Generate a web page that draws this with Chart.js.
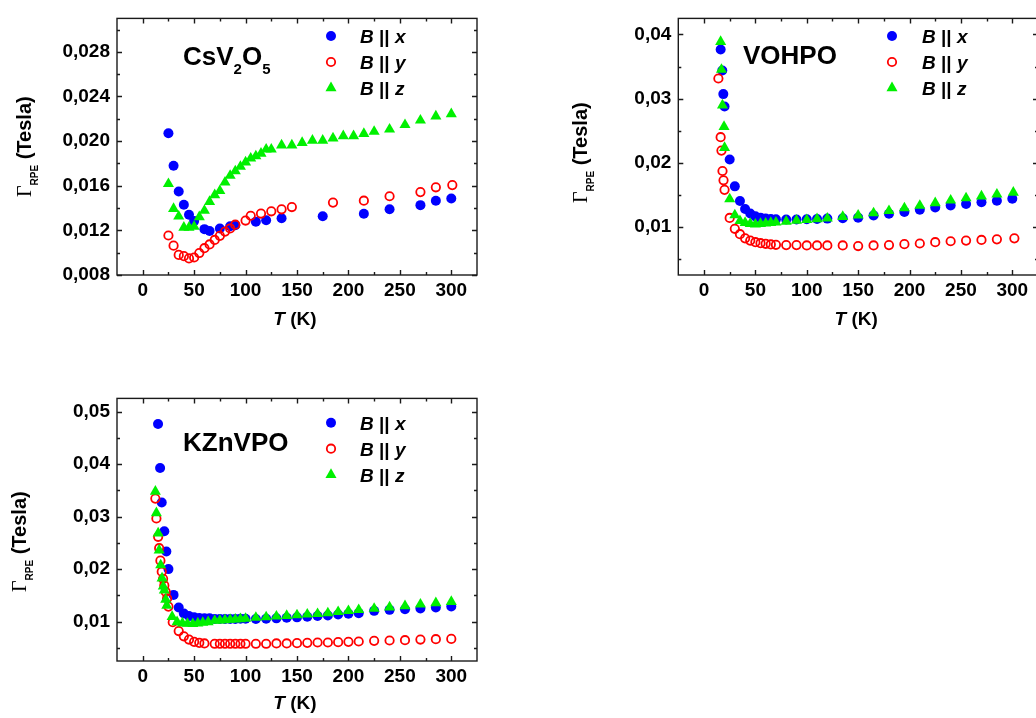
<!DOCTYPE html>
<html><head><meta charset="utf-8">
<script src="https://cdn.jsdelivr.net/npm/chart.js@4.4.1/dist/chart.umd.min.js"></script>
<style>
html,body{margin:0;padding:0;background:#fff;}
body{width:1036px;height:718px;overflow:hidden;position:relative;}
canvas{position:absolute;}
</style>
</head><body>
<canvas id="c1" width="520" height="340" style="left:0;top:0"></canvas>
<canvas id="c2" width="520" height="340" style="left:560px;top:0"></canvas>
<canvas id="c3" width="520" height="338" style="left:0;top:380px"></canvas>
<script>
// ---------- shared axis ticks ----------
const xTicks = [0, 50, 100, 150, 200, 250, 300];
const xTickLabels = ['0', '50', '100', '150', '200', '250', '300'];

// ---------- CsV2O5 ----------
const csYTicks = [0.008, 0.012, 0.016, 0.020, 0.024, 0.028];
const csYTickLabels = ['0,008', '0,012', '0,016', '0,020', '0,024', '0,028'];
const csT_x = [25, 30, 35, 40, 45, 50, 60, 65, 75, 85, 90, 110, 120, 135, 175, 215, 240, 270, 285, 300];
const cs_x  = [0.0207, 0.0178, 0.01548, 0.01429, 0.0134, 0.01283, 0.01211, 0.01194, 0.01217, 0.01237, 0.01246, 0.01277, 0.01291, 0.01309, 0.01326, 0.01349, 0.01389, 0.01426, 0.01466, 0.01486];
const csT_y = [25, 30, 35, 40, 45, 50, 55, 60, 65, 70, 75, 80, 85, 90, 100, 105, 115, 125, 135, 145, 185, 215, 240, 270, 285, 301];
const cs_y  = [0.01154, 0.01063, 0.0098, 0.00969, 0.00949, 0.00957, 0.00997, 0.0104, 0.01074, 0.01114, 0.01151, 0.01189, 0.01217, 0.01251, 0.01288, 0.01331, 0.01351, 0.01371, 0.01389, 0.01409, 0.01449, 0.01466, 0.01506, 0.01543, 0.01586, 0.01606];
const csT_z = [25, 30, 35, 40, 45, 50, 55, 60, 65, 70, 75, 80, 85, 90, 95, 100, 105, 110, 115, 120, 125, 135, 145, 155, 165, 175, 185, 195, 205, 215, 225, 240, 255, 270, 285, 300];
const cs_z  = [0.01617, 0.01394, 0.01326, 0.01226, 0.01226, 0.01234, 0.0132, 0.01377, 0.01457, 0.01517, 0.01554, 0.01631, 0.01691, 0.01731, 0.01771, 0.01811, 0.01846, 0.01866, 0.01889, 0.01926, 0.01926, 0.01963, 0.01963, 0.01986, 0.02006, 0.02006, 0.02026, 0.02046, 0.02046, 0.02066, 0.02086, 0.02106, 0.02146, 0.02186, 0.02223, 0.02243];

// ---------- VOHPO ----------
const voYTicks = [0.01, 0.02, 0.03, 0.04];
const voYTickLabels = ['0,01', '0,02', '0,03', '0,04'];
const voT_x = [16.2, 17.8, 18.8, 20, 25, 30, 35, 40, 45, 50, 55, 60, 65, 70, 80, 90, 100, 110, 120, 135, 150, 165, 180, 195, 210, 225, 240, 255, 270, 285, 300];
const vo_x  = [0.03766, 0.03438, 0.0307, 0.02876, 0.0205, 0.01632, 0.01403, 0.01279, 0.01209, 0.01164, 0.01144, 0.01129, 0.01124, 0.01119, 0.01114, 0.01114, 0.01119, 0.01124, 0.01129, 0.01134, 0.01144, 0.01179, 0.01204, 0.01234, 0.01269, 0.01303, 0.01333, 0.01358, 0.01383, 0.01408, 0.01438];
const voT_y = [14, 16.2, 17, 18, 19, 20, 25, 30, 35, 40, 45, 50, 55, 60, 65, 70, 80, 90, 100, 110, 120, 135, 150, 165, 180, 195, 210, 225, 240, 255, 270, 285, 302];
const vo_y  = [0.03313, 0.02398, 0.02189, 0.01871, 0.01726, 0.01577, 0.01139, 0.0097, 0.00886, 0.00821, 0.00786, 0.00761, 0.00746, 0.00736, 0.00726, 0.00721, 0.00716, 0.00716, 0.00711, 0.00711, 0.00711, 0.00711, 0.00701, 0.00711, 0.00716, 0.00731, 0.00741, 0.00761, 0.00776, 0.00786, 0.00796, 0.00806, 0.00821];
const voT_z = [16.2, 17, 18, 19.5, 20, 25, 30, 35, 40, 45, 50, 55, 60, 65, 70, 80, 90, 100, 110, 120, 135, 150, 165, 180, 195, 210, 225, 240, 255, 270, 285, 301];
const vo_z  = [0.03886, 0.03453, 0.02896, 0.02562, 0.02234, 0.01433, 0.01184, 0.01095, 0.01065, 0.0105, 0.0104, 0.0105, 0.01055, 0.01065, 0.0107, 0.01085, 0.011, 0.01109, 0.01124, 0.01134, 0.01159, 0.01179, 0.01214, 0.01249, 0.01294, 0.01333, 0.01373, 0.01413, 0.01448, 0.01478, 0.01507, 0.01537];

// ---------- KZnVPO ----------
const kzYTicks = [0.01, 0.02, 0.03, 0.04, 0.05];
const kzYTickLabels = ['0,01', '0,02', '0,03', '0,04', '0,05'];
const kzT_x = [14.9, 16.9, 18.5, 21, 23, 25, 30, 35, 40, 45, 50, 55, 60, 65, 70, 75, 80, 85, 90, 95, 100, 110, 120, 130, 140, 150, 160, 170, 180, 190, 200, 210, 225, 240, 255, 270, 285, 300];
const kz_x  = [0.04763, 0.03925, 0.03267, 0.0272, 0.02335, 0.02, 0.01509, 0.01267, 0.01155, 0.01106, 0.01081, 0.01068, 0.01062, 0.01062, 0.0105, 0.0105, 0.0105, 0.0105, 0.01052, 0.01054, 0.01056, 0.0105, 0.01056, 0.01062, 0.01075, 0.01081, 0.01093, 0.01106, 0.01118, 0.01137, 0.01149, 0.01161, 0.01205, 0.01224, 0.01236, 0.01248, 0.01267, 0.01286];
const kzT_y = [12.3, 13.3, 15, 16, 17.2, 18.5, 19.8, 21, 22.4, 23.7, 25, 29.2, 35, 40, 45, 50, 55, 60, 70, 75, 80, 85, 90, 95, 100, 110, 120, 130, 140, 150, 160, 170, 180, 190, 200, 210, 225, 240, 255, 270, 285, 300];
const kz_y  = [0.03342, 0.02963, 0.02615, 0.02398, 0.02161, 0.0195, 0.01814, 0.01689, 0.01565, 0.01441, 0.01286, 0.00988, 0.0082, 0.0072, 0.00658, 0.00615, 0.00596, 0.00584, 0.00578, 0.00578, 0.00578, 0.00578, 0.00578, 0.00578, 0.00578, 0.00578, 0.00578, 0.00584, 0.00584, 0.0059, 0.00596, 0.00602, 0.00602, 0.00609, 0.00615, 0.00621, 0.00634, 0.0064, 0.00646, 0.00658, 0.00665, 0.00671];
const kzT_z = [12.3, 13.3, 15, 16, 17.5, 18.8, 20, 21, 22.4, 23.4, 28.6, 33.4, 38.6, 43.5, 48.7, 53.6, 58.4, 63.6, 70, 75, 80, 85, 90, 95, 100, 110, 120, 130, 140, 150, 160, 170, 180, 190, 200, 210, 225, 240, 255, 270, 285, 300];
const kz_z  = [0.03478, 0.03068, 0.02683, 0.0236, 0.02075, 0.01826, 0.01671, 0.01596, 0.01422, 0.01304, 0.01093, 0.00994, 0.00969, 0.00963, 0.00957, 0.00969, 0.00981, 0.00994, 0.01019, 0.01025, 0.01031, 0.01037, 0.01043, 0.0105, 0.01056, 0.01075, 0.01087, 0.01099, 0.01112, 0.01124, 0.01137, 0.01149, 0.01161, 0.01186, 0.01205, 0.01224, 0.01248, 0.01273, 0.01298, 0.01329, 0.01354, 0.01379];

const legendLabels = ['x', 'y', 'z'];
const BLUE = '#0000ff', RED = '#ff0000', GREEN = '#00f000';
const SANS = '"Liberation Sans", Arial, Helvetica, sans-serif';
const SERIF = '"Liberation Serif", "Times New Roman", serif';
const R_BLUE = 5, R_RED = 4.2, W_RED = 1.8, R_TRI = 6.4;

function pairs(xs, ys) { return xs.map((t, i) => ({x: t, y: ys[i]})); }

function drawRuns(ctx, x, y, runs) {
  let cx = x;
  for (const r of runs) {
    ctx.font = r.font;
    ctx.fillText(r.text, cx, y + (r.dy || 0));
    cx += ctx.measureText(r.text).width;
  }
  return cx;
}
function runsWidth(ctx, runs) {
  let w = 0;
  for (const r of runs) { ctx.font = r.font; w += ctx.measureText(r.text).width; }
  return w;
}

function marker(ctx, kind, x, y) {
  ctx.save();
  if (kind === 0) {
    ctx.fillStyle = BLUE; ctx.beginPath(); ctx.arc(x, y, R_BLUE, 0, Math.PI * 2); ctx.fill();
  } else if (kind === 1) {
    ctx.strokeStyle = RED; ctx.lineWidth = W_RED; ctx.beginPath(); ctx.arc(x, y, R_RED, 0, Math.PI * 2); ctx.stroke();
  } else {
    const r = R_TRI;
    ctx.fillStyle = GREEN; ctx.beginPath();
    for (let k = 0; k < 3; k++) {
      const a = k * 2 * Math.PI / 3;
      const px = x + Math.sin(a) * r, py = y - Math.cos(a) * r;
      k ? ctx.lineTo(px, py) : ctx.moveTo(px, py);
    }
    ctx.closePath(); ctx.fill();
  }
  ctx.restore();
}

const decor = {
  id: 'decor',
  afterDraw(chart) {
    const o = chart.config.options.plugins.decor;
    const ctx = chart.ctx, a = chart.chartArea;
    const xs = chart.scales.x, ys = chart.scales.y;
    ctx.save();
    ctx.strokeStyle = '#1a1a1a'; ctx.lineWidth = 1.4;
    ctx.strokeRect(a.left, a.top, a.right - a.left, a.bottom - a.top);
    ctx.beginPath();
    const seg = (x1, y1, x2, y2) => { ctx.moveTo(x1, y1); ctx.lineTo(x2, y2); };
    const xStep = xTicks[1] - xTicks[0];
    const xAll = [];
    xTicks.forEach(v => { xAll.push([v, 5]); });
    xTicks.forEach(v => { [v - xStep / 2, v + xStep / 2].forEach(m => {
      if (m > xs.min + 1e-9 && m < xs.max - 1e-9 && !xAll.some(q => Math.abs(q[0] - m) < 1e-9)) xAll.push([m, 3]);
    }); });
    xAll.forEach(([v, L]) => {
      const p = Math.round(xs.getPixelForValue(v)) + 0.5;
      seg(p, a.bottom, p, a.bottom - L);
      seg(p, a.top, p, a.top + L);
    });
    const yt = o.yTicks, yStep = yt[1] - yt[0];
    const yAll = [];
    yt.forEach(v => yAll.push([v, 5]));
    yt.forEach(v => { [v - yStep / 2, v + yStep / 2].forEach(m => {
      if (m > ys.min + 1e-9 && m < ys.max - 1e-9 && !yAll.some(q => Math.abs(q[0] - m) < 1e-9)) yAll.push([m, 3]);
    }); });
    yAll.forEach(([v, L]) => {
      const p = Math.round(ys.getPixelForValue(v)) + 0.5;
      seg(a.left, p, a.left + L, p);
      seg(a.right, p, a.right - L, p);
    });
    ctx.stroke();

    ctx.fillStyle = '#000';
    ctx.textBaseline = 'alphabetic';
    ctx.textAlign = 'left';
    drawRuns(ctx, o.titleX, o.titleY, o.titleRuns);
    for (let i = 0; i < 3; i++) {
      const cy = o.legY + i * 26;
      marker(ctx, i, o.legMX, cy);
      ctx.fillStyle = '#000';
      drawRuns(ctx, o.legTX, cy + 7, [
        {text: 'B', font: 'italic bold 19px ' + SANS},
        {text: ' || ', font: 'bold 19px ' + SANS},
        {text: legendLabels[i], font: 'italic bold 19px ' + SANS}
      ]);
    }
    const xRuns = [{text: 'T', font: 'italic bold 19px ' + SANS}, {text: ' (K)', font: 'bold 19px ' + SANS}];
    const xw = runsWidth(ctx, xRuns);
    drawRuns(ctx, (a.left + a.right) / 2 - xw / 2 - 2, o.xTitleY, xRuns);
    ctx.translate(o.yTitleX, o.yTitleBottom);
    ctx.rotate(-Math.PI / 2);
    drawRuns(ctx, 0, 0, [
      {text: '\u0393', font: '20px ' + SERIF},
      {text: 'RPE', font: 'bold 10px ' + SANS, dy: 7},
      {text: ' (Tesla)', font: 'bold 20px ' + SANS}
    ]);
    ctx.restore();
  }
};

function makePanel(id, p) {
  const cv = document.getElementById(id);
  const H = cv.height, W = cv.width;
  new Chart(cv, {
    type: 'scatter',
    data: {
      datasets: [
        {label: 'B || x', data: pairs(p.Tx, p.x), pointStyle: 'circle', pointRadius: R_BLUE, pointBackgroundColor: BLUE, pointBorderColor: BLUE, pointBorderWidth: 0, order: 3},
        {label: 'B || y', data: pairs(p.Ty, p.y), pointStyle: 'circle', pointRadius: R_RED, pointBackgroundColor: 'rgba(0,0,0,0)', pointBorderColor: RED, pointBorderWidth: W_RED, order: 2},
        {label: 'B || z', data: pairs(p.Tz, p.z), pointStyle: 'triangle', pointRadius: R_TRI, pointBackgroundColor: GREEN, pointBorderColor: GREEN, pointBorderWidth: 0, order: 1}
      ]
    },
    options: {
      responsive: false, animation: false, events: [],
      layout: {padding: {left: 0, right: W - p.areaRight, top: p.areaTop, bottom: 0}},
      scales: {
        x: {
          type: 'linear', position: 'bottom', min: -25, max: 325,
          grid: {display: false, drawTicks: false}, border: {display: false},
          afterBuildTicks: s => { s.ticks = xTicks.map(v => ({value: v})); },
          afterFit: s => { s.height = H - p.areaBottom; },
          ticks: {padding: 4, color: '#000', font: {family: SANS, size: 19, weight: 'bold'},
                  callback: (v) => xTickLabels[xTicks.indexOf(v)] ?? ''}
        },
        y: {
          type: 'linear', position: 'left', min: p.yMin, max: p.yMax,
          grid: {display: false, drawTicks: false}, border: {display: false},
          afterBuildTicks: s => { s.ticks = p.yTicks.map(v => ({value: v})); },
          afterFit: s => { s.width = p.areaLeft; },
          ticks: {padding: 7, color: '#000', font: {family: SANS, size: 19, weight: 'bold'},
                  callback: (v) => { const i = p.yTicks.findIndex(t => Math.abs(t - v) < 1e-9); return i >= 0 ? p.yLabels[i] : ''; }}
        }
      },
      plugins: {
        legend: {display: false}, tooltip: {enabled: false}, title: {display: false},
        decor: p.decor
      }
    },
    plugins: [decor]
  });
}

makePanel('c1', {
  Tx: csT_x, x: cs_x, Ty: csT_y, y: cs_y, Tz: csT_z, z: cs_z,
  yMin: 0.008, yMax: 0.031, yTicks: csYTicks, yLabels: csYTickLabels,
  areaLeft: 117, areaRight: 477, areaTop: 7, areaBottom: 275,
  decor: {
    yTicks: csYTicks,
    titleX: 183, titleY: 65,
    titleRuns: [
      {text: 'CsV', font: 'bold 26px ' + SANS},
      {text: '2', font: 'bold 15px ' + SANS, dy: 9},
      {text: 'O', font: 'bold 26px ' + SANS},
      {text: '5', font: 'bold 15px ' + SANS, dy: 9}
    ],
    legMX: 331, legTX: 360, legY: 36,
    xTitleY: 325, yTitleX: 31, yTitleBottom: 197
  }
});

makePanel('c2', {
  Tx: voT_x, x: vo_x, Ty: voT_y, y: vo_y, Tz: voT_z, z: vo_z,
  yMin: 0.0025, yMax: 0.0425, yTicks: voYTicks, yLabels: voYTickLabels,
  areaLeft: 118.3, areaRight: 478, areaTop: 7, areaBottom: 275,
  decor: {
    yTicks: voYTicks,
    titleX: 183, titleY: 64,
    titleRuns: [{text: 'VOHPO', font: 'bold 26px ' + SANS}],
    legMX: 332, legTX: 362, legY: 36,
    xTitleY: 325, yTitleX: 27, yTitleBottom: 203
  }
});

makePanel('c3', {
  Tx: kzT_x, x: kz_x, Ty: kzT_y, y: kz_y, Tz: kzT_z, z: kz_z,
  yMin: 0.0025, yMax: 0.0525, yTicks: kzYTicks, yLabels: kzYTickLabels,
  areaLeft: 117, areaRight: 477, areaTop: 13.3, areaBottom: 281,
  decor: {
    yTicks: kzYTicks,
    titleX: 183, titleY: 71,
    titleRuns: [{text: 'KZnVPO', font: 'bold 26px ' + SANS}],
    legMX: 331, legTX: 360, legY: 42.7,
    xTitleY: 329, yTitleX: 26, yTitleBottom: 212
  }
});
</script>
</body></html>
